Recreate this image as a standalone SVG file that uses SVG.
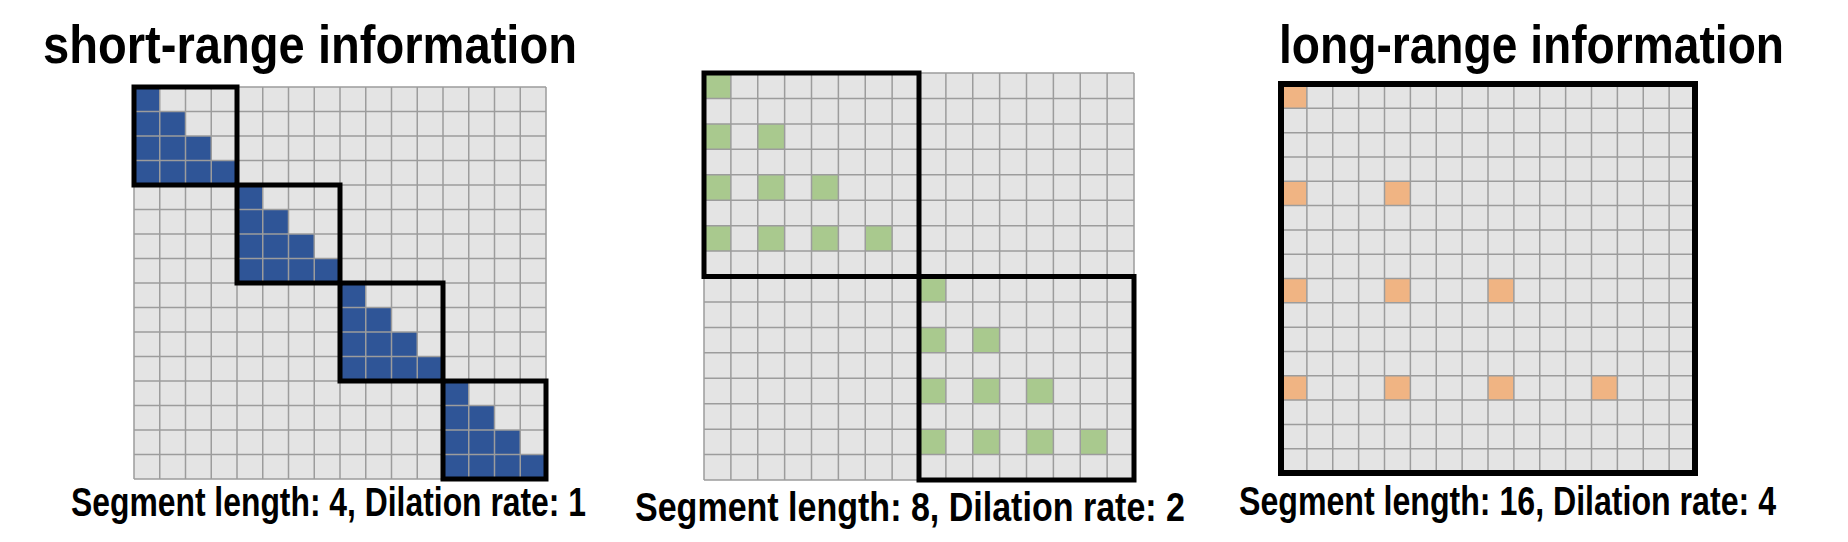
<svg xmlns="http://www.w3.org/2000/svg" width="1848" height="542" viewBox="0 0 1848 542">
<style>
.bg{fill:#e4e4e4}
.gl{fill:none;stroke:#9c9c9c;stroke-width:1.5}
.box{fill:none;stroke:#000;stroke-width:5}
.blue{fill:#2f5597}
.green{fill:#a9c98e}
.orange{fill:#f0b483}
.title{font-family:'Liberation Sans Narrow','Liberation Sans',sans-serif;font-weight:bold;font-size:54px;fill:#000}
.lab{font-family:'Liberation Sans Narrow','Liberation Sans',sans-serif;font-weight:bold;font-size:40px;fill:#000}
</style>
<rect width="1848" height="542" fill="#fff"/>

<g id="short-range">
<text class="title" x="43" y="63" textLength="534" lengthAdjust="spacingAndGlyphs">short-range information</text>
<rect class="bg" x="134" y="87" width="412" height="392"/>
<polygon class="blue" points="134,87 159.75,87 159.75,111.5 185.5,111.5 185.5,136 211.25,136 211.25,160.5 237,160.5 237,185 134,185"/>
<polygon class="blue" points="237,185 262.75,185 262.75,209.5 288.5,209.5 288.5,234 314.25,234 314.25,258.5 340,258.5 340,283 237,283"/>
<polygon class="blue" points="340,283 365.75,283 365.75,307.5 391.5,307.5 391.5,332 417.25,332 417.25,356.5 443,356.5 443,381 340,381"/>
<polygon class="blue" points="443,381 468.75,381 468.75,405.5 494.5,405.5 494.5,430 520.25,430 520.25,454.5 546,454.5 546,479 443,479"/>
<path class="gl" d="M134,87V479M159.75,87V479M185.5,87V479M211.25,87V479M237,87V479M262.75,87V479M288.5,87V479M314.25,87V479M340,87V479M365.75,87V479M391.5,87V479M417.25,87V479M443,87V479M468.75,87V479M494.5,87V479M520.25,87V479M546,87V479M134,87H546M134,111.5H546M134,136H546M134,160.5H546M134,185H546M134,209.5H546M134,234H546M134,258.5H546M134,283H546M134,307.5H546M134,332H546M134,356.5H546M134,381H546M134,405.5H546M134,430H546M134,454.5H546M134,479H546"/>
<rect class="box" x="134" y="87" width="103" height="98"/>
<rect class="box" x="237" y="185" width="103" height="98"/>
<rect class="box" x="340" y="283" width="103" height="98"/>
<rect class="box" x="443" y="381" width="103" height="98"/>
<text class="lab" x="71" y="516" textLength="515" lengthAdjust="spacingAndGlyphs">Segment length: 4, Dilation rate: 1</text>
</g>

<g id="mid-range">
<rect class="bg" x="704" y="73" width="430" height="407"/>
<g class="green">
<rect x="704" y="73" width="26.88" height="25.44"/>
<rect x="704" y="123.88" width="26.88" height="25.44"/>
<rect x="757.75" y="123.88" width="26.88" height="25.44"/>
<rect x="704" y="174.75" width="26.88" height="25.44"/>
<rect x="757.75" y="174.75" width="26.88" height="25.44"/>
<rect x="811.5" y="174.75" width="26.88" height="25.44"/>
<rect x="704" y="225.63" width="26.88" height="25.44"/>
<rect x="757.75" y="225.63" width="26.88" height="25.44"/>
<rect x="811.5" y="225.63" width="26.88" height="25.44"/>
<rect x="865.25" y="225.63" width="26.88" height="25.44"/>
<rect x="919" y="276.5" width="26.88" height="25.44"/>
<rect x="919" y="327.38" width="26.88" height="25.44"/>
<rect x="972.75" y="327.38" width="26.88" height="25.44"/>
<rect x="919" y="378.25" width="26.88" height="25.44"/>
<rect x="972.75" y="378.25" width="26.88" height="25.44"/>
<rect x="1026.5" y="378.25" width="26.88" height="25.44"/>
<rect x="919" y="429.13" width="26.88" height="25.44"/>
<rect x="972.75" y="429.13" width="26.88" height="25.44"/>
<rect x="1026.5" y="429.13" width="26.88" height="25.44"/>
<rect x="1080.25" y="429.13" width="26.88" height="25.44"/>
</g>
<path class="gl" d="M704,73V480M730.88,73V480M757.75,73V480M784.63,73V480M811.5,73V480M838.38,73V480M865.25,73V480M892.13,73V480M919,73V480M945.88,73V480M972.75,73V480M999.63,73V480M1026.5,73V480M1053.38,73V480M1080.25,73V480M1107.13,73V480M1134,73V480M704,73H1134M704,98.44H1134M704,123.88H1134M704,149.31H1134M704,174.75H1134M704,200.19H1134M704,225.63H1134M704,251.06H1134M704,276.5H1134M704,301.94H1134M704,327.38H1134M704,352.81H1134M704,378.25H1134M704,403.69H1134M704,429.13H1134M704,454.56H1134M704,480H1134"/>
<rect class="box" x="704" y="73" width="215" height="203.5"/>
<rect class="box" x="919" y="276.5" width="215" height="203.5"/>
<text class="lab" x="635" y="521" textLength="550" lengthAdjust="spacingAndGlyphs">Segment length: 8, Dilation rate: 2</text>
</g>

<g id="long-range">
<text class="title" x="1279" y="63" textLength="505" lengthAdjust="spacingAndGlyphs">long-range information</text>
<rect class="bg" x="1281" y="84" width="414" height="389"/>
<g class="orange">
<rect x="1281" y="84" width="25.88" height="24.31"/>
<rect x="1281" y="181.25" width="25.88" height="24.31"/>
<rect x="1384.5" y="181.25" width="25.88" height="24.31"/>
<rect x="1281" y="278.5" width="25.88" height="24.31"/>
<rect x="1384.5" y="278.5" width="25.88" height="24.31"/>
<rect x="1488" y="278.5" width="25.88" height="24.31"/>
<rect x="1281" y="375.75" width="25.88" height="24.31"/>
<rect x="1384.5" y="375.75" width="25.88" height="24.31"/>
<rect x="1488" y="375.75" width="25.88" height="24.31"/>
<rect x="1591.5" y="375.75" width="25.88" height="24.31"/>
</g>
<path class="gl" d="M1306.88,84V473M1332.75,84V473M1358.63,84V473M1384.5,84V473M1410.38,84V473M1436.25,84V473M1462.13,84V473M1488,84V473M1513.88,84V473M1539.75,84V473M1565.63,84V473M1591.5,84V473M1617.38,84V473M1643.25,84V473M1669.13,84V473M1281,108.31H1695M1281,132.63H1695M1281,156.94H1695M1281,181.25H1695M1281,205.56H1695M1281,229.88H1695M1281,254.19H1695M1281,278.5H1695M1281,302.81H1695M1281,327.13H1695M1281,351.44H1695M1281,375.75H1695M1281,400.06H1695M1281,424.38H1695M1281,448.69H1695"/>
<rect class="box" x="1281" y="84" width="414" height="389" style="stroke-width:6"/>
<text class="lab" x="1239" y="515" textLength="537" lengthAdjust="spacingAndGlyphs">Segment length: 16, Dilation rate: 4</text>
</g>
</svg>
